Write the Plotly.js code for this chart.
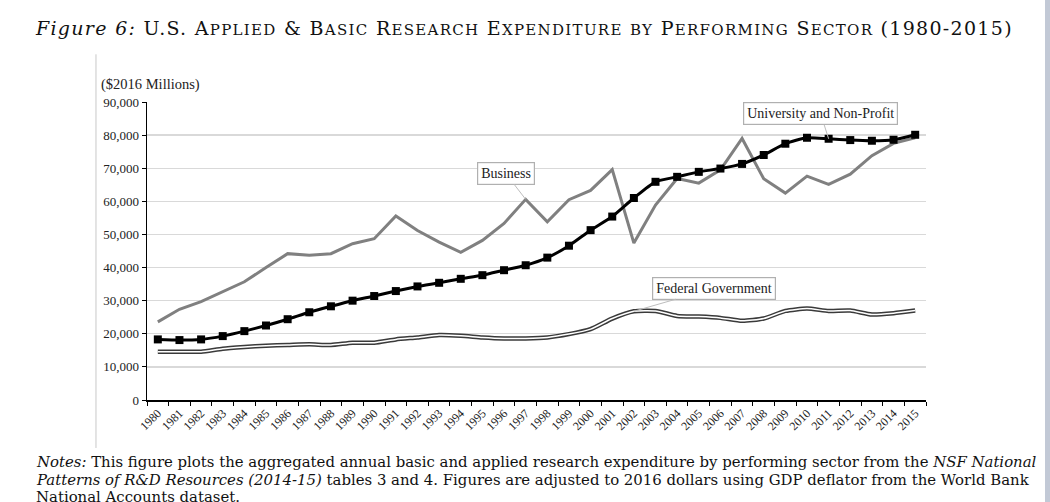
<!DOCTYPE html>
<html>
<head>
<meta charset="utf-8">
<script src="https://cdn.plot.ly/plotly-3.0.1.min.js"></script>
<style>
  body { margin: 0; background: #c2c9d6; }
  #chart { width: 1045px; height: 502px; background: #fff; }
  .gtitle { letter-spacing: 1.3px; }
</style>
</head>
<body>
<div id="chart"></div>
<script>
const years = ['1980','1981','1982','1983','1984','1985','1986','1987','1988','1989',
  '1990','1991','1992','1993','1994','1995','1996','1997','1998','1999',
  '2000','2001','2002','2003','2004','2005','2006','2007','2008','2009',
  '2010','2011','2012','2013','2014','2015'];

const university = [18300, 18100, 18300, 19300, 20800, 22500, 24400, 26500, 28300, 30000,
  31400, 32900, 34300, 35400, 36600, 37700, 39200, 40700, 43000, 46600,
  51300, 55400, 61000, 65900, 67400, 68900, 69900, 71300, 74000, 77400,
  79200, 78900, 78500, 78300, 78600, 80100];

const business = [23600, 27400, 29700, 32600, 35700, 40000, 44200, 43700, 44200, 47200,
  48700, 55600, 51200, 47700, 44600, 48200, 53300, 60600, 53800, 60500,
  63300, 69600, 47400, 58900, 66900, 65500, 69500, 79000, 66800, 62500,
  67600, 65100, 68200, 73800, 77500, 79200];

const federal = [14600, 14600, 14600, 15500, 16000, 16400, 16600, 16800, 16600, 17300,
  17300, 18300, 18900, 19600, 19400, 18900, 18600, 18600, 18900, 19900,
  21400, 24600, 26800, 26900, 25400, 25200, 24800, 23900, 24600, 26900,
  27600, 26900, 27000, 25800, 26200, 27000];

const serif = 'Liberation Serif, Times New Roman, serif';
const wide = 'DejaVu Serif, serif';

// small caps by hand: first letter full size, rest uppercase and smaller
function sc(word) {
  return word[0] + '<span style="font-size:15px">' + word.slice(1).toUpperCase() + '</span>';
}
function scAll(word) {
  return '<span style="font-size:15px">' + word.toUpperCase() + '</span>';
}
const titleText = '<i>Figure 6:</i> U.S. ' + sc('Applied') + ' &amp; ' + sc('Basic') + ' ' +
  sc('Research') + ' ' + sc('Expenditure') + ' ' + scAll('by') + ' ' + sc('Performing') + ' ' +
  sc('Sector') + ' (1980-2015)';

const traces = [
  { x: years, y: federal, type: 'scatter', mode: 'lines',
    line: { color: '#3a3a3a', width: 4.5, shape: 'spline', smoothing: 0.6 } },
  { x: years, y: federal, type: 'scatter', mode: 'lines',
    line: { color: '#ffffff', width: 1.5, shape: 'spline', smoothing: 0.6 } },
  { x: years, y: business, type: 'scatter', mode: 'lines',
    line: { color: '#808080', width: 3 } },
  { x: years, y: university, type: 'scatter', mode: 'lines+markers',
    line: { color: '#000000', width: 3, shape: 'spline', smoothing: 0.6 },
    marker: { symbol: 'square', size: 8, color: '#000000' } }
];

function label(text, xi, series, ax, ay) {
  return {
    x: xi, y: series[xi], xref: 'x', yref: 'y', text: text,
    showarrow: true, arrowhead: 0, arrowwidth: 1, arrowcolor: '#bdbdbd',
    ax: ax, ay: ay, bgcolor: '#ffffff', bordercolor: '#b0b0b0', borderwidth: 1.2,
    borderpad: 3, font: { family: serif, size: 14, color: '#222' }
  };
}

const layout = {
  width: 1045, height: 502,
  margin: { l: 147, r: 119, t: 102, b: 102 },
  paper_bgcolor: '#ffffff', plot_bgcolor: '#ffffff',
  showlegend: false,
  font: { family: serif, color: '#222' },
  title: {
    text: titleText, xref: 'container', yref: 'container', x: 36 / 1045, y: 1 - 28 / 502,
    xanchor: 'left', yanchor: 'middle', font: { family: wide, size: 19, color: '#111' }
  },
  xaxis: {
    type: 'category', range: [-0.5, 35.5], tickson: 'boundaries',
    showgrid: false, showline: true, linecolor: '#000', linewidth: 1.5,
    ticks: 'outside', ticklen: 4, tickcolor: '#000', tickangle: -45,
    tickfont: { family: serif, size: 12, color: '#222' }, zeroline: false
  },
  yaxis: {
    range: [0, 90000], dtick: 10000, tickformat: ',d',
    showgrid: true, gridcolor: '#d9d9d9', gridwidth: 1.3,
    showline: true, linecolor: '#000', linewidth: 1.5,
    ticks: 'outside', ticklen: 4, tickcolor: '#000',
    tickfont: { family: serif, size: 13, color: '#222' }, zeroline: false
  },
  shapes: [
    { type: 'line', xref: 'paper', yref: 'paper', x0: -0.0655, x1: -0.0655, y0: 1.16, y1: -0.161,
      line: { color: '#c8c8c8', width: 1 } }
  ],
  annotations: [
    { xref: 'paper', yref: 'paper', x: -0.061, y: 1.06, xanchor: 'left', yanchor: 'middle',
      text: '($2016 Millions)', showarrow: false, font: { family: serif, size: 14.5, color: '#222' } },
    { xref: 'paper', yref: 'paper', x: -0.145, y: -0.208, xanchor: 'left', yanchor: 'middle',
      text: '<i>Notes:</i> This figure plots the aggregated annual basic and applied research expenditure by performing sector from the <i>NSF National</i>',
      showarrow: false, font: { family: wide, size: 14.9, color: '#111' } },
    { xref: 'paper', yref: 'paper', x: -0.145, y: -0.268, xanchor: 'left', yanchor: 'middle',
      text: '<i>Patterns of R&amp;D Resources (2014-15)</i> tables 3 and 4. Figures are adjusted to 2016 dollars using GDP deflator from the World Bank',
      showarrow: false, font: { family: wide, size: 14.9, color: '#111' } },
    { xref: 'paper', yref: 'paper', x: -0.145, y: -0.325, xanchor: 'left', yanchor: 'middle',
      text: 'National Accounts dataset.',
      showarrow: false, font: { family: wide, size: 14.9, color: '#111' } },
    label('Business', 17, business, -20, -26),
    label('University and Non-Profit', 31, university, -8, -25),
    label('Federal Government', 22, federal, 80, -23)
  ]
};

Plotly.newPlot('chart', traces, layout, { displayModeBar: false, staticPlot: true });
</script>
</body>
</html>
